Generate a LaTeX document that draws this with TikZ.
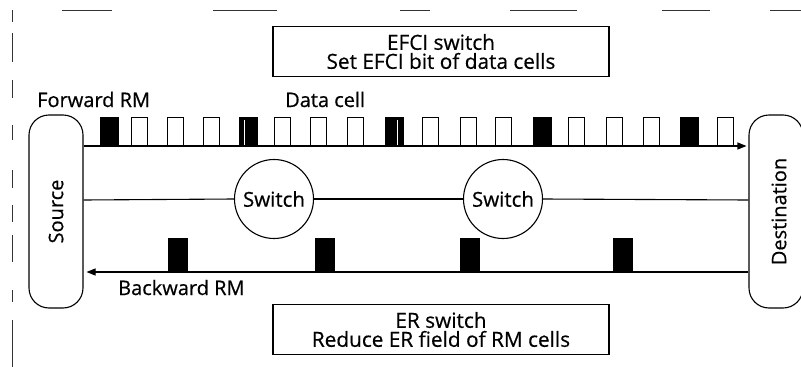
\documentclass[tikz,border=0pt]{standalone}
\usepackage{fontspec}
\setmainfont{Open Sans}[FakeBold=0.5]
\usetikzlibrary{arrows.meta,calc}
\tikzset{
  lbl/.style={font=\fontsize{20}{19}\selectfont, inner sep=0pt},
  infobox/.style={draw, line width=1.1pt, minimum width=336pt, minimum height=50pt, align=center, font=\fontsize{20.8}{19}\selectfont, inner sep=0pt},
  endbox/.style={draw, line width=1.1pt, rounded corners=20pt, minimum width=54pt, minimum height=193pt, inner sep=0pt},
  sw/.style={draw, circle, line width=1.1pt, minimum size=79pt, inner sep=0pt, fill=white, font=\fontsize{20.5}{19}\selectfont},
  wcell/.style={draw, line width=0.9pt, fill=white, minimum width=16pt, minimum height=28pt, inner sep=0pt, anchor=south west},
  bcell/.style={draw, line width=0.9pt, fill=black, minimum width=18pt, minimum height=28pt, inner sep=0pt, anchor=south west},
  rmcell/.style={fill=black, minimum width=20pt, minimum height=34pt, inner sep=0pt, anchor=south west},
  link/.style={line width=1.1pt},
  scan/.style={line width=1pt, black!80},
}
\begin{document}
\begin{tikzpicture}[x=1pt,y=-1pt]
\useasboundingbox (0,0) rectangle (801,367);
% scan artifacts
\draw[scan] (62,10) -- (112,10) (213,10) -- (277,10) (400,10) -- (430,10) (510,10) -- (577,10) (662,10) -- (710,10) (770,10) -- (801,10);
\draw[scan] (12,10) -- (12,22) (12,33) -- (12,62) (12,80) -- (12,98) (12,125) -- (12,140) (12,170) -- (12,188) (12,205) -- (12,222) (12,235) -- (12,262) (12,290) -- (12,302) (12,320) -- (12,367);
% info boxes
\node[infobox] (efci) at (441,51.5) {EFCI switch\\Set EFCI bit of data cells};
\node[infobox] (er) at (441,329.5) {ER switch\\Reduce ER field of RM cells};
% end systems
\node[endbox] (src) at (56,211.5) {};
\node[rotate=90, lbl] (srct) at (src.center) {Source};
\node[endbox] (dst) at (776,211.5) {};
\node[rotate=90, lbl] (dstt) at ($(dst.center)+(3,0)$) {Destination};
% switches
\coordinate (mid) at (0,200);
\node[sw] (sw1) at (274,199) {Switch};
\node[sw] (sw2) at (503,199) {Switch};
\draw[link] (src.east |- mid) -- (sw1.west);
\draw[link] (sw1.east) -- (sw2.west);
\draw[link] (sw2.east) -- (dst.west |- mid);
% forward cells
\foreach \x [count=\i] in {131,167,203,274,310,347,422,460,495,568,606,643,717}
  \node[wcell] (wc\i) at (\x,146) {};
\foreach \x [count=\i] in {100,239,385,533,680}
  \node[bcell] (bc\i) at (\x,146) {};
\draw[white, line width=0.9pt] (244,120) -- (244,145);
\draw[white, line width=0.9pt] (397,120) -- (397,145);
% forward arrow
\coordinate (fwd) at (0,146);
\draw[link, -{Triangle[length=9pt,width=7pt]}] (src.east |- fwd) -- ($(dst.west |- fwd)+(-2,0)$);
% backward RM cells
\foreach \x [count=\i] in {168,315,460,613}
  \node[rmcell] (rm\i) at (\x,272) {};
\coordinate (bwd) at (0,272);
\draw[link, -{Triangle[length=9pt,width=7pt]}] (dst.west |- bwd) -- ($(src.east |- bwd)+(3,0)$);
% labels
\node[lbl, anchor=base west] (fwdl) at (37,107) {Forward RM};
\node[lbl, anchor=base west] (datal) at (285,107) {Data cell};
\node[lbl, anchor=base west] (bwdl) at (118,295) {Backward RM};
\end{tikzpicture}
\end{document}
